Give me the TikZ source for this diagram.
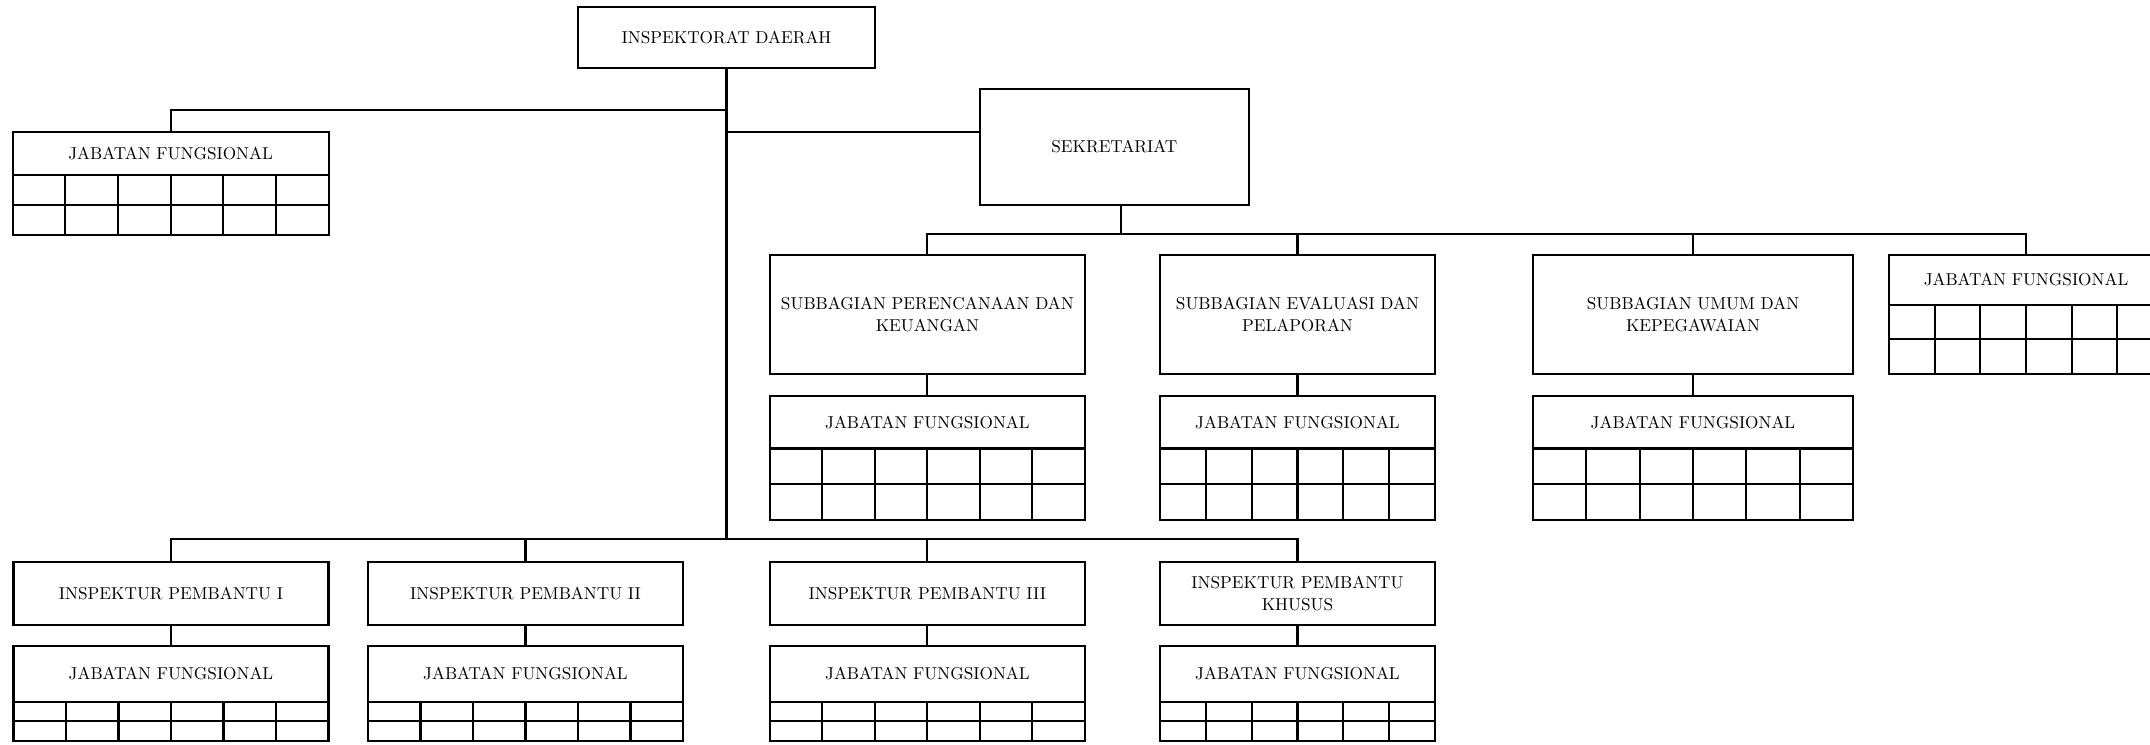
\documentclass[tikz,border=0pt]{standalone}
\usepackage{fontspec}
% fixed 10pt design of Latin Modern, used at small sizes
\setmainfont{lmroman10-regular}[Extension=.otf]
\usetikzlibrary{calc}

% A "Jabatan Fungsional" block: titled header with a 2 x 6 grid below.
% #1 name, #2/#3 top-left corner, #4 width, #5 header height, #6 row height
\newcommand\fungsional[6]{%
  \node[unit, sz={#4}{#5}, anchor=north west] (#1) at (#2,#3) {JABATAN FUNGSIONAL};
  \draw[line] (#1.south west) rectangle ++(#4,{2*#6});
  \draw[line] ($(#1.south west)+(0,#6)$) -- ++(#4,0);
  \foreach \k in {1,...,5}
    \draw[line] ($(#1.south west)+({\k*#4/6},0)$) -- ++(0,{2*#6});
}

\begin{document}
\begin{tikzpicture}[x=0.01cm, y=-0.01cm,
  line/.style={line width=0.6pt, draw=black},
  unit/.style={line, rectangle, outer sep=0pt, inner sep=1pt, align=center,
               font=\fontsize{4.9}{6.3}\selectfont},
  sz/.style 2 args={minimum width={#1*0.01cm}, minimum height={#2*0.01cm}}]

\useasboundingbox (0,0) rectangle (2150,744);

% top level
\node[unit, sz={297}{61}] (ins) at (726.5,37.8) {INSPEKTORAT DAERAH};
\fungsional{jfa}{12.6}{132.3}{316}{43}{29.7}

% secretariat and its sub-units
\node[unit, sz={269}{116}] (sek) at (1114.3,147) {SEKRETARIAT};
\node[unit, sz={315}{119}] (spk) at (927.4,314.4) {SUBBAGIAN PERENCANAAN DAN\\KEUANGAN};
\node[unit, sz={275}{119}] (sep) at (1297.5,314.4) {SUBBAGIAN EVALUASI DAN\\PELAPORAN};
\node[unit, sz={320}{119}] (suk) at (1693,314.4) {SUBBAGIAN UMUM DAN\\KEPEGAWAIAN};
\fungsional{jfs}{1889}{255}{274}{50}{34.4}
\fungsional{jfb}{769.9}{396}{315}{52.5}{35.6}
\fungsional{jfc}{1160}{396}{275}{52.5}{35.6}
\fungsional{jfd}{1533}{396}{320}{52.5}{35.6}

% assistant inspectors
\node[unit, sz={315}{63}] (ip1) at (171,593.5) {INSPEKTUR PEMBANTU I};
\node[unit, sz={315}{63}] (ip2) at (525.5,593.5) {INSPEKTUR PEMBANTU II};
\node[unit, sz={315}{63}] (ip3) at (927.4,593.5) {INSPEKTUR PEMBANTU III};
\node[unit, sz={275}{63}] (ipk) at (1297.5,593.5) {INSPEKTUR PEMBANTU\\KHUSUS};
\fungsional{jfe}{13.5}{646.3}{315}{55.4}{19.6}
\fungsional{jff}{368}{646.3}{315}{55.4}{19.6}
\fungsional{jfg}{769.9}{646.3}{315}{55.4}{19.6}
\fungsional{jfh}{1160}{646.3}{275}{55.4}{19.6}

% bus levels
\coordinate (yl) at (0,110.3);
\coordinate (ys) at (0,131.7);
\coordinate (yr) at (0,233.7);
\coordinate (yb) at (0,539);
\coordinate (sekout) at ($(sek.south)+(7,0)$);

% connectors
\draw[line] (ins.south) -- (ins.south |- yb);
\draw[line] (ins.south |- yl) -| (jfa.north);
\draw[line] (ins.south |- ys) -- (sek.west |- ys);

\draw[line] (sekout) -- (sekout |- yr);
\draw[line] (spk.north) |- (jfs.north |- yr) -- (jfs.north);
\draw[line] (sep.north) -- (sep.north |- yr);
\draw[line] (suk.north) -- (suk.north |- yr);
\draw[line] (spk.south) -- (jfb.north);
\draw[line] (sep.south) -- (jfc.north);
\draw[line] (suk.south) -- (jfd.north);

\draw[line] (ip1.north) |- (ipk.north |- yb) -- (ipk.north);
\draw[line] (ip2.north) -- (ip2.north |- yb);
\draw[line] (ip3.north) -- (ip3.north |- yb);
\draw[line] (ip1.south) -- (jfe.north);
\draw[line] (ip2.south) -- (jff.north);
\draw[line] (ip3.south) -- (jfg.north);
\draw[line] (ipk.south) -- (jfh.north);
\end{tikzpicture}
\end{document}
